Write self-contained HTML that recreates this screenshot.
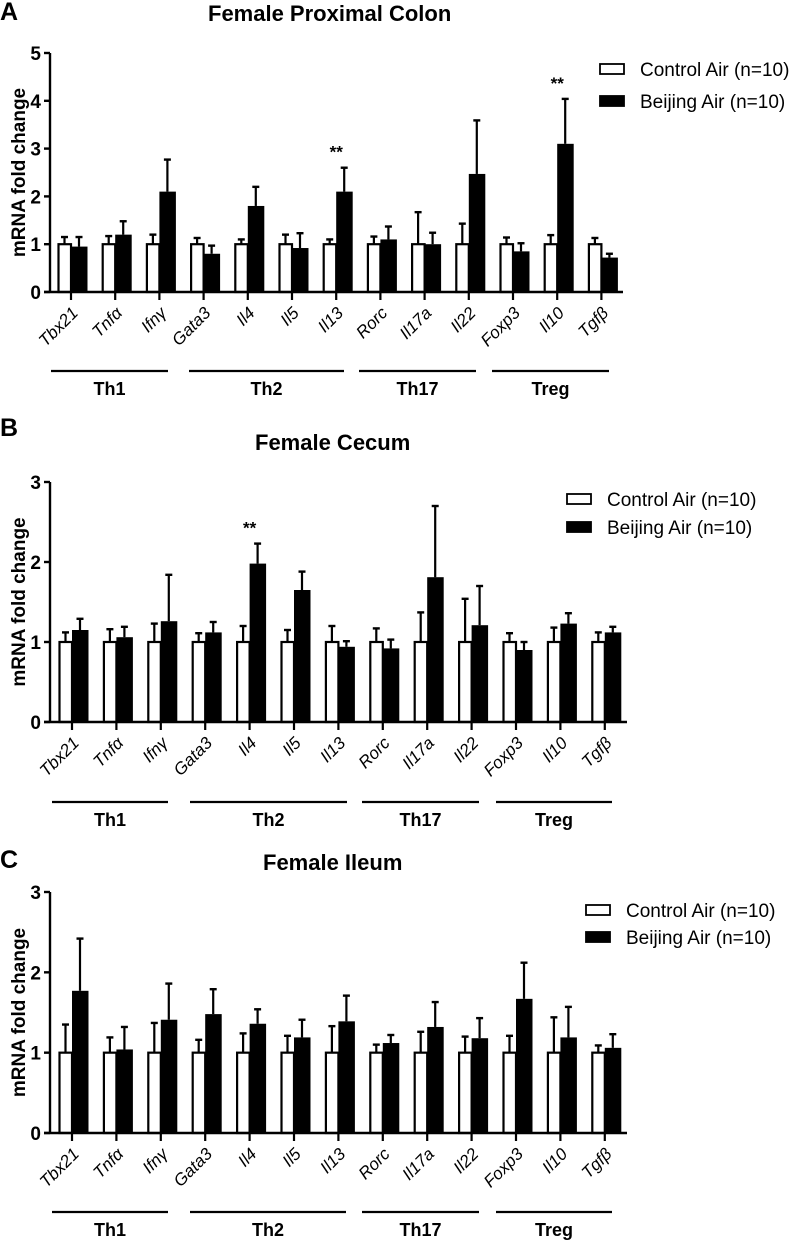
<!DOCTYPE html>
<html><head><meta charset="utf-8"><style>
body{margin:0;background:#fff;}
svg{display:block;font-family:"Liberation Sans",Arial,sans-serif;}
</style></head><body>
<svg id="fig" width="795" height="1240" viewBox="0 0 795 1240"></svg>
<script>
const categories = ["Tbx21","Tnf\u03B1","Ifn\u03B3","Gata3","Il4","Il5","Il13","Rorc","Il17a","Il22","Foxp3","Il10","Tgf\u03B2"];
const groupNames = ["Th1","Th2","Th17","Treg"];
const seriesNames = ["Control Air (n=10)","Beijing Air (n=10)"];
// Panel A
const aControl = [1,1,1,1,1,1,1,1,1,1,1,1,1];
const aControlErr = [1.15,1.17,1.2,1.13,1.1,1.2,1.1,1.16,1.67,1.43,1.14,1.19,1.13];
const aBeijing = [0.95,1.2,2.1,0.8,1.8,0.92,2.1,1.1,1.0,2.47,0.85,3.1,0.72];
const aBeijingErr = [1.15,1.48,2.77,0.97,2.2,1.23,2.6,1.37,1.24,3.59,1.02,4.04,0.8];
const aTicks = [0,1,2,3,4,5];
const aStars = [6,11];
// Panel B
const bControl = [1,1,1,1,1,1,1,1,1,1,1,1,1];
const bControlErr = [1.12,1.16,1.23,1.11,1.2,1.15,1.2,1.17,1.37,1.54,1.11,1.18,1.12];
const bBeijing = [1.15,1.06,1.26,1.12,1.98,1.65,0.94,0.92,1.81,1.21,0.9,1.23,1.12];
const bBeijingErr = [1.29,1.19,1.84,1.25,2.23,1.88,1.01,1.03,2.7,1.7,1.0,1.36,1.19];
const bTicks = [0,1,2,3];
const bStars = [4];
// Panel C
const cControl = [1,1,1,1,1,1,1,1,1,1,1,1,1];
const cControlErr = [1.35,1.19,1.37,1.16,1.24,1.21,1.33,1.1,1.26,1.2,1.21,1.44,1.09];
const cBeijing = [1.77,1.04,1.41,1.48,1.36,1.19,1.39,1.12,1.32,1.18,1.67,1.19,1.06];
const cBeijingErr = [2.42,1.32,1.86,1.79,1.54,1.41,1.71,1.22,1.63,1.43,2.12,1.57,1.23];
const cTicks = [0,1,2,3];
const cStars = [];

const NS="http://www.w3.org/2000/svg";
const svg=document.getElementById('fig');
function mk(tag,attrs,parent,text){const e=document.createElementNS(NS,tag);for(const k in attrs)e.setAttribute(k,attrs[k]);if(text!==undefined)e.textContent=text;(parent||svg).appendChild(e);return e;}

const groupSpans=[[0,2],[3,6],[7,9],[10,12]];

function panel(cfg){
  const g=mk('g',{});
  
  
  const x0=50, x1=cfg.xEnd, y0=cfg.y0, yTop=cfg.yTop, max=cfg.ticks[cfg.ticks.length-1];
  const yS=v=>y0-(y0-yTop)*v/max;
  const xC=i=>cfg.c0+i*cfg.step;
  let t=mk('text',{x:0,y:cfg.letterY,'font-size':25,'font-weight':'bold'},g,cfg.letter);
  
  t=mk('text',{x:cfg.titleX,y:cfg.titleY,'font-size':22,'font-weight':'bold'},g,cfg.title);
  
  t=mk('text',{x:0,y:0,'font-size':19,'font-weight':'bold','text-anchor':'middle',transform:`translate(25,${(y0+yTop)/2}) rotate(-90)`},g,'mRNA fold change');
  
  for(let i=0;i<categories.length;i++){
    const c=xC(i);
    const cv=cfg.control[i], bv=cfg.beijing[i];
    let l=mk('line',{x1:c-6.5,x2:c-6.5,y1:yS(cv),y2:yS(cfg.controlErr[i]),stroke:'#000','stroke-width':2.2},g);
    
    l=mk('line',{x1:c-10,x2:c-3,y1:yS(cfg.controlErr[i]),y2:yS(cfg.controlErr[i]),stroke:'#000','stroke-width':2.4},g);
    
    let r=mk('rect',{x:c-12.5,y:yS(cv),width:12.5,height:y0-yS(cv),fill:'#fff',stroke:'#000','stroke-width':2.2},g);
    
    l=mk('line',{x1:c+8,x2:c+8,y1:yS(bv),y2:yS(cfg.beijingErr[i]),stroke:'#000','stroke-width':2.2},g);
    
    l=mk('line',{x1:c+4.5,x2:c+11.5,y1:yS(cfg.beijingErr[i]),y2:yS(cfg.beijingErr[i]),stroke:'#000','stroke-width':2.4},g);
    
    r=mk('rect',{x:c,y:yS(bv),width:16.5,height:y0-yS(bv),fill:'#000'},g);
    
    l=mk('line',{x1:c,x2:c,y1:y0,y2:y0+8,stroke:'#000','stroke-width':2.2},g);
    
    t=mk('text',{x:0,y:0,'font-size':17,'font-style':'italic','text-anchor':'end',transform:`translate(${c+8},${y0+22}) rotate(-45)`},g,categories[i]);
    
  }
  let ax=mk('line',{x1:x0,x2:x0,y1:yTop,y2:y0+1,stroke:'#000','stroke-width':2.4},g);
  
  ax=mk('line',{x1:x0-6,x2:x1,y1:y0,y2:y0,stroke:'#000','stroke-width':2.4},g);
  
  cfg.ticks.forEach(v=>{
    let l=mk('line',{x1:x0-6,x2:x0,y1:yS(v),y2:yS(v),stroke:'#000','stroke-width':2.4},g);
    
    let tt=mk('text',{x:x0-9,y:yS(v)+7,'font-size':19,'font-weight':'bold','text-anchor':'end'},g,String(v));
    
  });
  cfg.stars.forEach(i=>{
    const top=Math.max(cfg.beijingErr[i],cfg.controlErr[i]);
    let s=mk('text',{x:xC(i),y:yS(top)-10,'font-size':17,'font-weight':'bold','text-anchor':'middle'},g,'**');
    
  });
  groupSpans.forEach((sp,k)=>{
    const a=cfg.groupX[k][0], b=cfg.groupX[k][1];
    let l=mk('line',{x1:a,x2:b,y1:cfg.groupY,y2:cfg.groupY,stroke:'#000','stroke-width':2.2},g);
    
    let tt=mk('text',{x:(a+b)/2,y:cfg.groupY+24,'font-size':18,'font-weight':'bold','text-anchor':'middle'},g,groupNames[k]);
    
  });
  const lg=mk('g',{},g);
  
  [0,1].forEach(k=>{
    const y=cfg.legY+k*cfg.legGap;
    let r=mk('rect',{x:cfg.legX,y:y-5,width:24,height:10,fill:k?'#000':'#fff',stroke:'#000','stroke-width':1.8},lg);
    
    let tt=mk('text',{x:cfg.legX+40,y:y+7,'font-size':19},lg,seriesNames[k]);
    
  });
}

panel({id:'a',letter:'A',letterY:20,title:'Female Proximal Colon',titleX:208,titleY:21,y0:292,yTop:53,ticks:aTicks,
  control:aControl,controlErr:aControlErr,beijing:aBeijing,beijingErr:aBeijingErr,stars:aStars,
  c0:71,step:44.2,xEnd:623,groupY:371,groupX:[[51,168],[189,344],[359,476],[492,609]],legX:600,legY:69,legGap:32});
panel({id:'b',letter:'B',letterY:436,title:'Female Cecum',titleX:255,titleY:450,y0:722,yTop:482,ticks:bTicks,
  control:bControl,controlErr:bControlErr,beijing:bBeijing,beijingErr:bBeijingErr,stars:bStars,
  c0:72,step:44.4,xEnd:627,groupY:802,groupX:[[52,168],[190,347],[362,479],[496,612]],legX:567,legY:499,legGap:28});
panel({id:'c',letter:'C',letterY:868,title:'Female Ileum',titleX:263,titleY:870,y0:1133,yTop:892,ticks:cTicks,
  control:cControl,controlErr:cControlErr,beijing:cBeijing,beijingErr:cBeijingErr,stars:cStars,
  c0:72,step:44.4,xEnd:627,groupY:1212,groupX:[[52,168],[190,346],[362,479],[496,612]],legX:586,legY:910,legGap:27});
</script>
</body></html>
